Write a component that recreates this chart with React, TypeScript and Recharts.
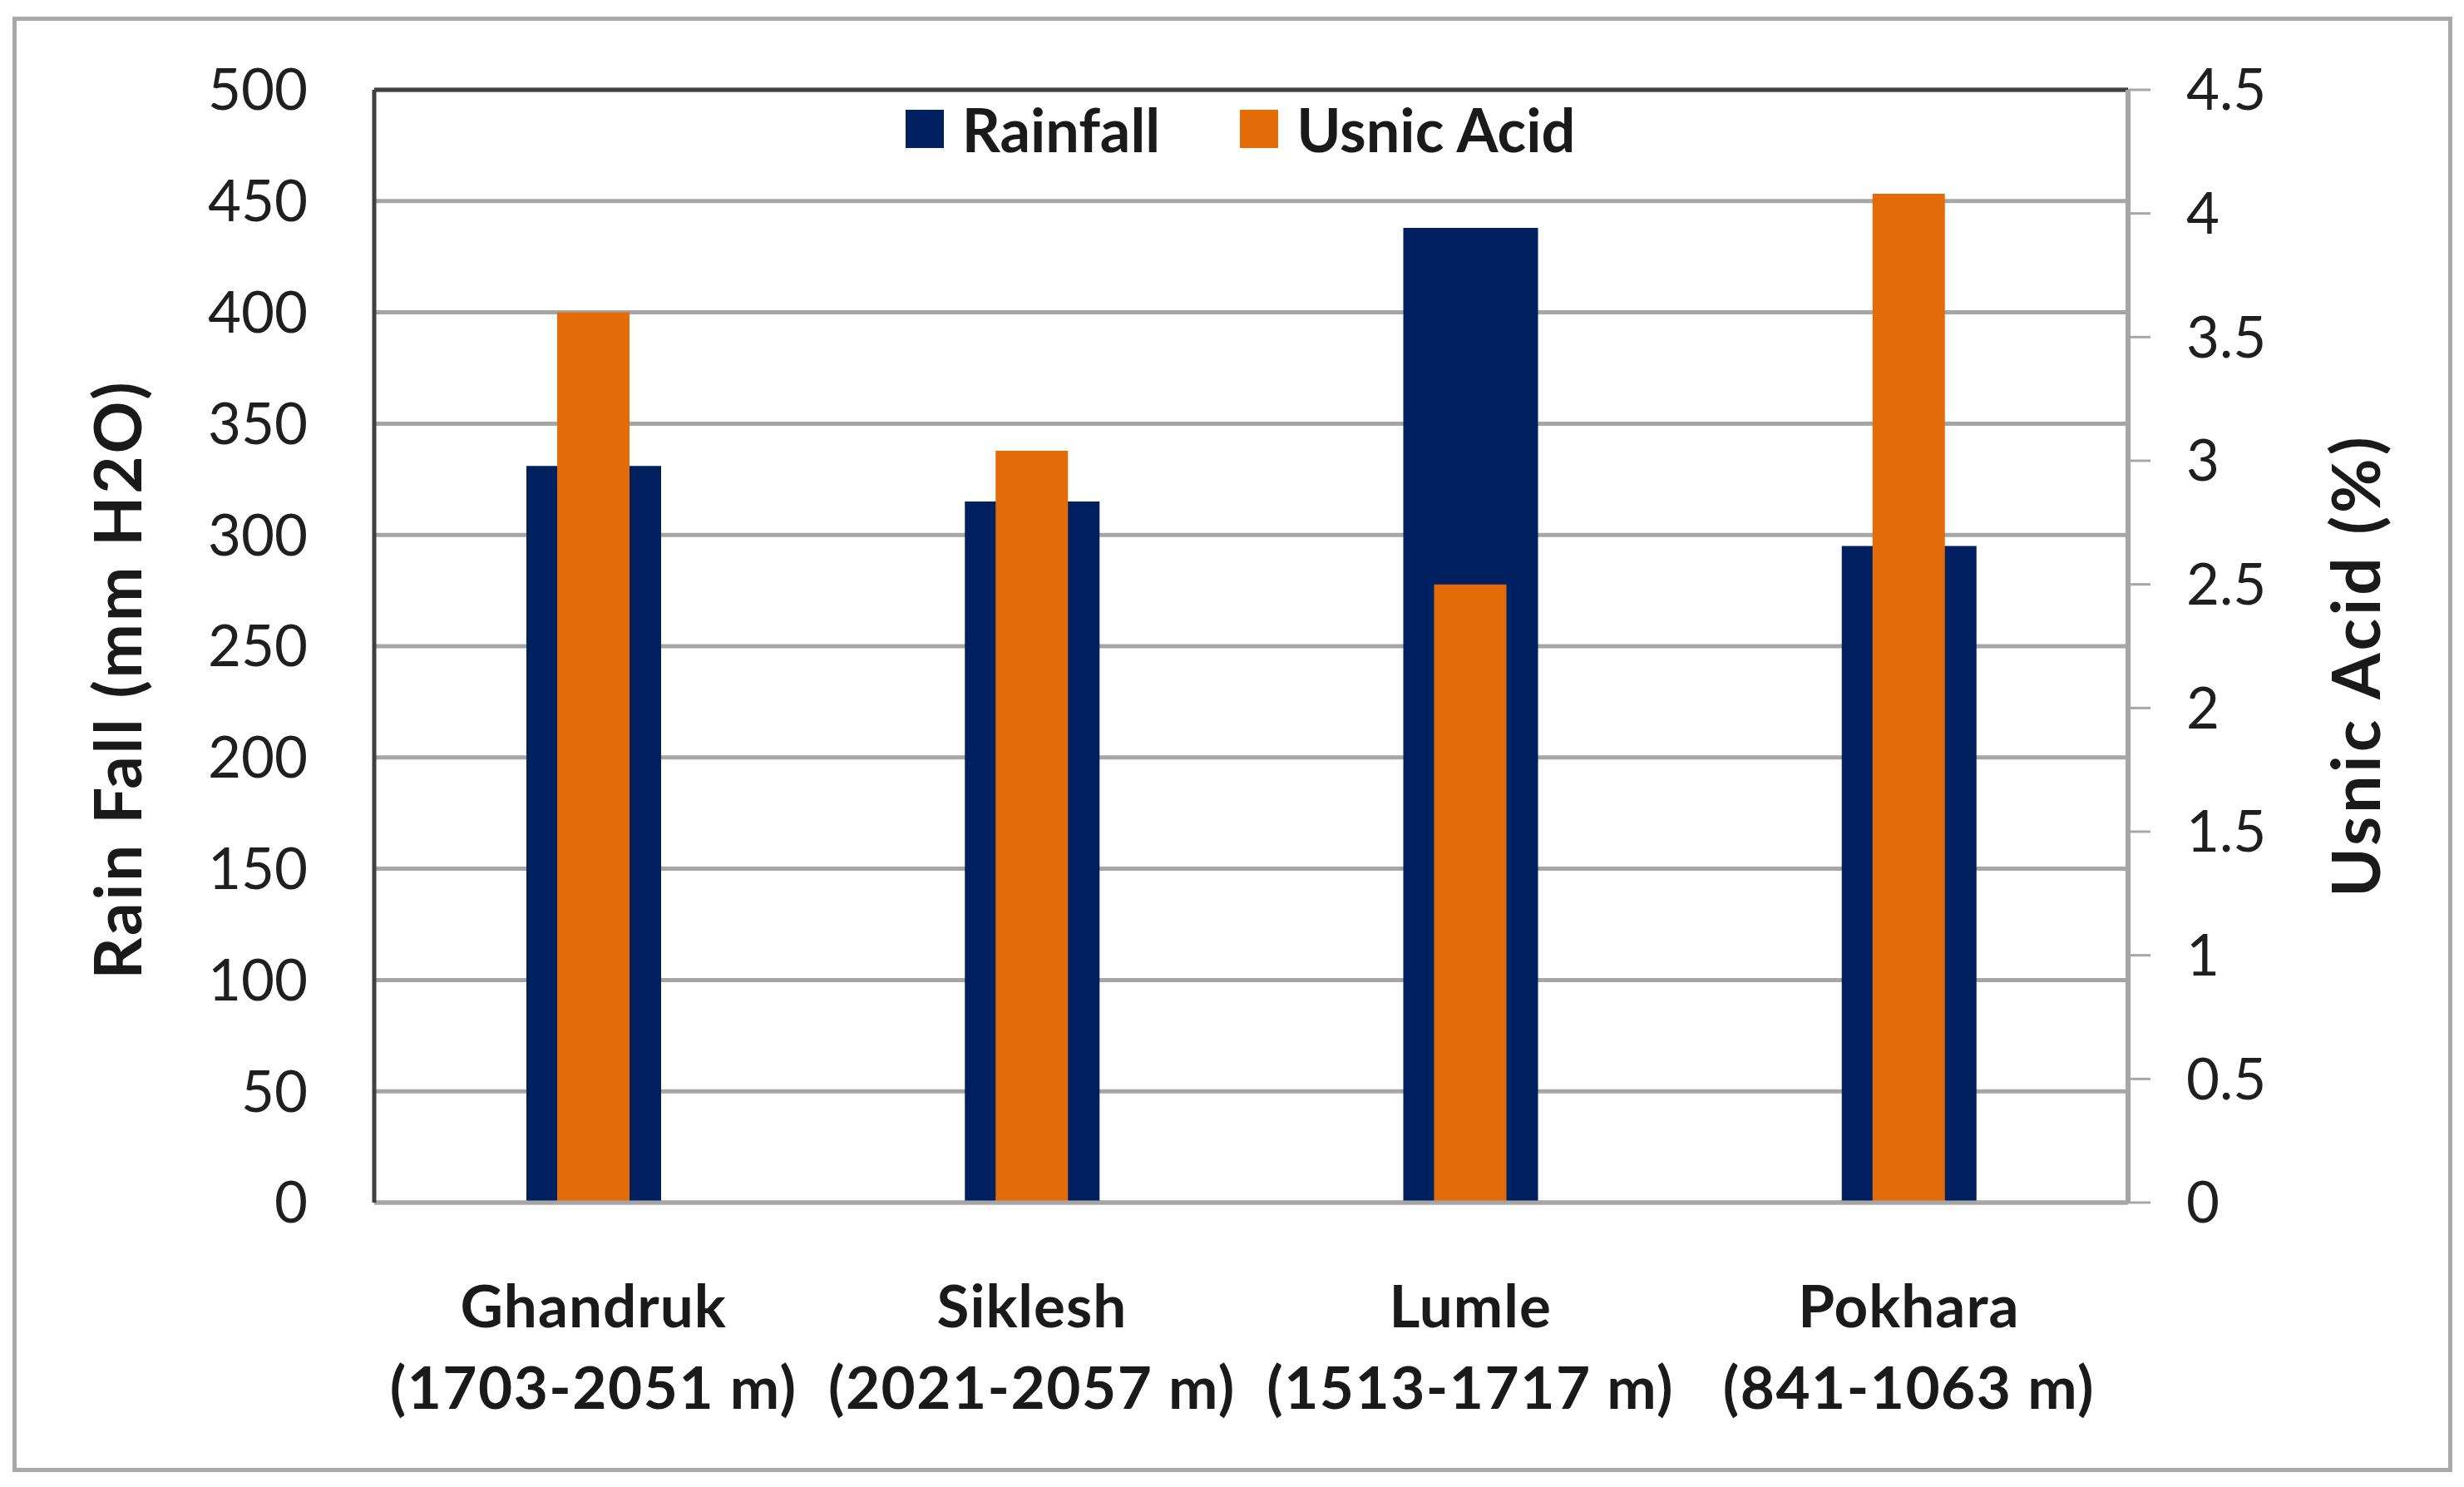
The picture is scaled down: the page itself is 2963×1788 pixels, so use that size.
import React from 'react';
import { BarChart, Bar, XAxis, YAxis, CartesianGrid, Legend, ReferenceLine } from 'recharts';

const categories = ['Ghandruk', 'Siklesh', 'Lumle', 'Pokhara'];
const elevations = ['(1703-2051 m)', '(2021-2057 m)', '(1513-1717 m)', '(841-1063 m)'];
const rainfall = [331, 315, 438, 295];
const usnicAcid = [3.6, 3.04, 2.5, 4.08];
const rainTicks = [0, 50, 100, 150, 200, 250, 300, 350, 400, 450, 500];
const usnicTicks = [0, 0.5, 1, 1.5, 2, 2.5, 3, 3.5, 4, 4.5];

const data = categories.map((name, i) => ({
  name,
  elevation: elevations[i],
  rainfall: rainfall[i],
  usnic: usnicAcid[i],
}));

const NAVY = '#002060';
const ORANGE = '#E36C09';
const GRID = '#a6a6a6';
const DARK = '#404040';
const FONT = 'Lato, "Open Sans", sans-serif';

const CategoryTick = (props: any) => {
  const { x, y, payload, index } = props;
  const i = payload && payload.index != null ? payload.index : index;
  return (
    <g>
      <text x={x} y={y + 150} textAnchor="middle" fontFamily={FONT} fontWeight={700} fontSize={71} letterSpacing={1} fill="#1a1a1a">
        {payload.value}
      </text>
      <text x={x} y={y + 248} textAnchor="middle" fontFamily={FONT} fontWeight={700} fontSize={71} letterSpacing={1.5} fill="#1a1a1a">
        {elevations[i]}
      </text>
    </g>
  );
};

const LegendContent = () => (
  <div style={{ display: 'flex', justifyContent: 'center', alignItems: 'center', fontFamily: FONT, fontWeight: 700, fontSize: 72, color: '#1a1a1a', lineHeight: 1, paddingLeft: 20 }}>
    <span style={{ display: 'inline-block', width: 46, height: 46, background: NAVY, marginRight: 22 }} />
    <span style={{ marginRight: 96 }}>Rainfall</span>
    <span style={{ display: 'inline-block', width: 46, height: 46, background: ORANGE, marginRight: 22 }} />
    <span>Usnic Acid</span>
  </div>
);

const leftTitle = (p: any) => {
  const vb = p.viewBox || { x: 0, y: 0, width: 0, height: 0 };
  const cx = vb.x + 140;
  const cy = vb.y + vb.height / 2 + 40;
  return (
    <text x={cx} y={cy} transform={`rotate(-90 ${cx} ${cy})`} textAnchor="middle" dominantBaseline="central" fontFamily={FONT} fontWeight={700} fontSize={78} letterSpacing={3} fill="#1a1a1a">
      Rain Fall (mm H2O)
    </text>
  );
};

const rightTitle = (p: any) => {
  const vb = p.viewBox || { x: 0, y: 0, width: 0, height: 0 };
  const cx = vb.x + 272;
  const cy = vb.y + vb.height / 2 + 23;
  return (
    <text x={cx} y={cy} transform={`rotate(-90 ${cx} ${cy})`} textAnchor="middle" dominantBaseline="central" fontFamily={FONT} fontWeight={700} fontSize={80} letterSpacing={4} fill="#1a1a1a">
      Usnic Acid (%)
    </text>
  );
};

export default function App() {
  return (
    <div style={{ position: 'absolute', left: 0, top: 0, width: 2963, height: 1788, background: '#ffffff' }}>
      <div style={{ position: 'absolute', left: 15, top: 20, width: 2934, height: 1750, border: '5px solid #a8a8a8', boxSizing: 'border-box' }} />
      <div style={{ position: 'absolute', left: 0, top: 0 }}>
        <BarChart width={2963} height={1788} data={data} margin={{ top: 108, right: 0, bottom: 42, left: 0 }}>
          <CartesianGrid xAxisId="a" yAxisId="left" vertical={false} stroke={GRID} strokeWidth={5} />
          <XAxis
            xAxisId="a"
            dataKey="name"
            height={300}
            axisLine={{ stroke: GRID, strokeWidth: 5 }}
            tickLine={false}
            tickSize={0}
            tickMargin={0}
            tick={<CategoryTick />}
            interval={0}
          />
          <XAxis xAxisId="b" dataKey="name" hide />
          <YAxis
            yAxisId="left"
            orientation="left"
            width={450}
            domain={[0, 500]}
            ticks={rainTicks}
            interval={0}
            axisLine={{ stroke: DARK, strokeWidth: 5 }}
            tickLine={false}
            tickSize={0}
            tickMargin={80}
            tick={{ fontFamily: FONT, fontSize: 69, fill: '#1f1f1f' }}
            label={{ content: leftTitle }}
          />
          <YAxis
            yAxisId="right"
            orientation="right"
            width={404}
            domain={[0, 4.5]}
            ticks={usnicTicks}
            interval={0}
            axisLine={{ stroke: GRID, strokeWidth: 6 }}
            tickLine={{ stroke: GRID, strokeWidth: 3 }}
            tickSize={27}
            tickMargin={43}
            tick={{ fontFamily: FONT, fontSize: 69, fill: '#1f1f1f' }}
            label={{ content: rightTitle }}
          />
          <ReferenceLine xAxisId="a" yAxisId="left" y={500} stroke={DARK} strokeWidth={5} />
          <Legend verticalAlign="middle" align="center" layout="horizontal" wrapperStyle={{ top: 119, left: 0, width: 2963 }} content={<LegendContent />} />
          <Bar xAxisId="a" yAxisId="left" dataKey="rainfall" name="Rainfall" fill={NAVY} barSize={162} isAnimationActive={false} />
          <Bar xAxisId="b" yAxisId="right" dataKey="usnic" name="Usnic Acid" fill={ORANGE} barSize={87} isAnimationActive={false} />
        </BarChart>
      </div>
    </div>
  );
}
